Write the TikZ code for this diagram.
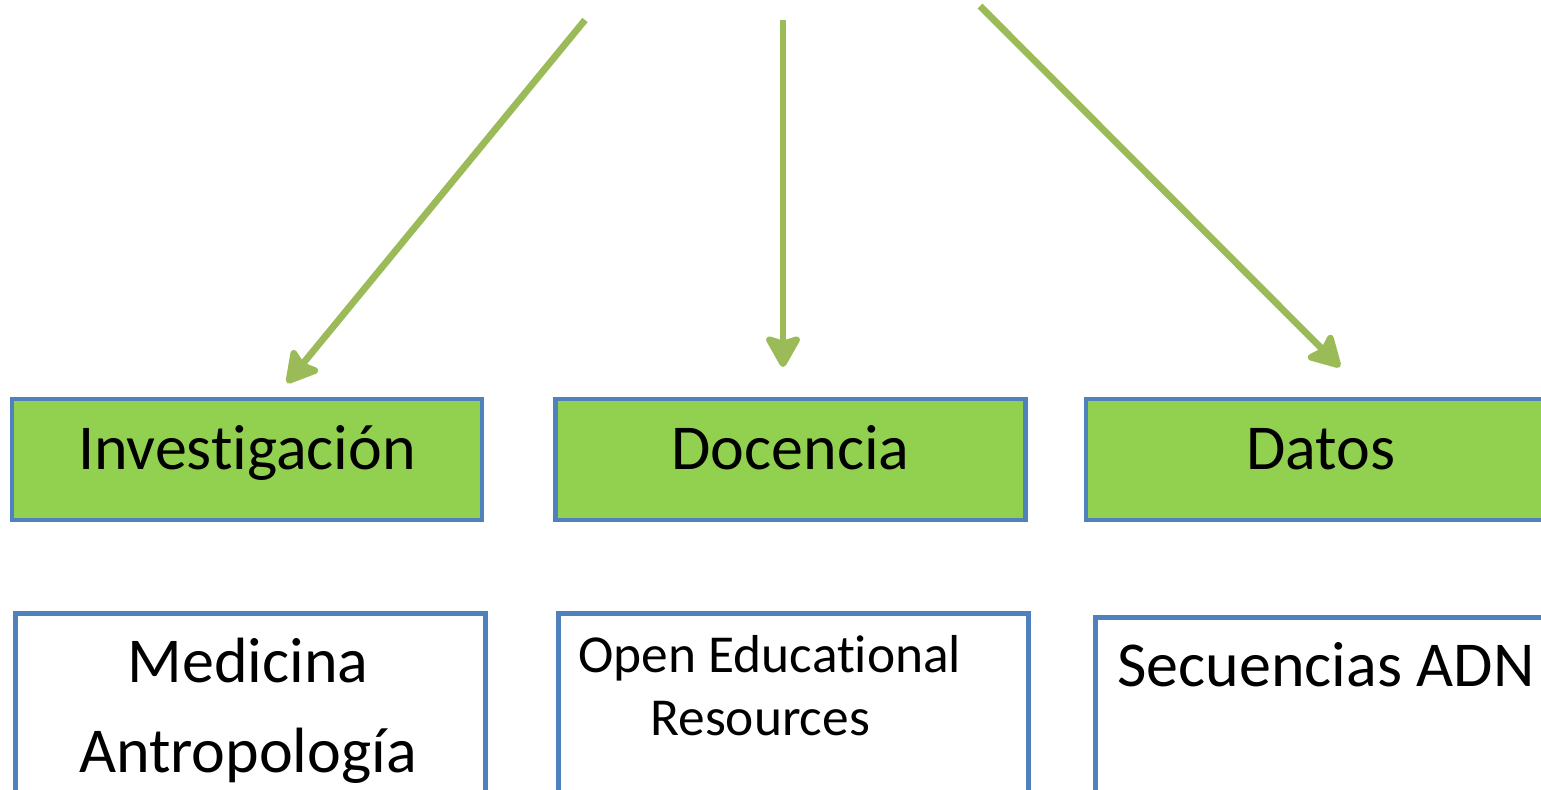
\documentclass[tikz,border=0pt]{standalone}
\usepackage{fontspec}
\setmainfont{Carlito}[Ligatures=NoCommon]
\usepackage{xcolor}
\usepackage{tikz}
\usetikzlibrary{positioning,arrows.meta}
\definecolor{boxgreen}{HTML}{92D050}
\definecolor{boxblue}{HTML}{4F81BD}
\definecolor{arrowgreen}{HTML}{9BBB59}
\tikzset{
    topbox/.style={draw=boxblue, fill=boxgreen, line width=2.4pt, minimum width=235pt, minimum height=60.5pt, inner sep=0pt, text height=24pt, text depth=13.5pt, font=\fontsize{32}{38}\selectfont},
    subbox/.style={draw=boxblue, line width=2.4pt, minimum width=235pt, minimum height=150pt, anchor=north west, inner sep=0pt},
    subtext/.style={inner sep=0pt},
    arr/.style={draw=arrowgreen, line width=3.4pt, -{Stealth[length=18pt, width=20pt, inset=3pt, round]}}
}

\begin{document}
\begin{tikzpicture}[x=0.5pt, y=-0.5pt]
    \useasboundingbox (0,0) rectangle (1541,790);
    \clip (0,0) rectangle (1541,790);

    % Top boxes
    \node [topbox] (inv) at (247,459.5) {Investigación};
    \node [topbox] (doc) at (790.5,459.5) {Docencia};
    \node [topbox] (dat) at (1321,459.5) {Datos};

    % Lower boxes
    \node [subbox] (invsub) at (13,611) {};
    \node [subbox] (docsub) at (556,611) {};
    \node [subbox] (datsub) at (1093,615) {};

    % Lower texts
    \node [subtext, anchor=base, font=\fontsize{32}{38}\selectfont] (med) at (248,682) {Medicina};
    \node [subtext, anchor=base, font=\fontsize{32}{38}\selectfont] (ant) at (248,772) {Antropología};
    \node [subtext, anchor=base west, font=\fontsize{26.7}{32}\selectfont] (oer) at (578,672) {Open Educational};
    \node [subtext, anchor=base west, font=\fontsize{26.7}{32}\selectfont] (res) at (650,735) {Resources};
    \node [subtext, anchor=base west, font=\fontsize{32}{38}\selectfont] (adn) at (1117,686) {Secuencias ADN};

    % Arrows
    \coordinate (src1) at (585,20);
    \coordinate (src2) at (783,20);
    \coordinate (src3) at (980,6);
    \coordinate (inv-in) at (287,383);
    \coordinate (doc-in) at (783,367);
    \coordinate (dat-in) at (1340,367);
    \draw [arr] (src1) -- (inv-in);
    \draw [arr] (src2) -- (doc-in);
    \draw [arr] (src3) -- (dat-in);
\end{tikzpicture}
\end{document}
